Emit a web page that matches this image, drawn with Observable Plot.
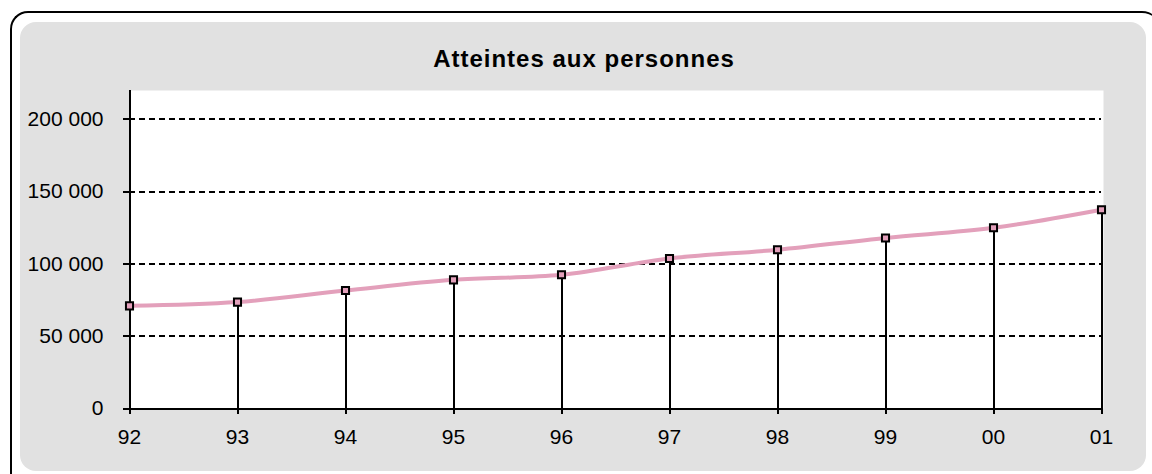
<!DOCTYPE html>
<html>
<head>
<meta charset="utf-8">
<script src="https://cdn.jsdelivr.net/npm/d3@7"></script>
<script src="https://cdn.jsdelivr.net/npm/@observablehq/plot@0.6"></script>
<style>
  html, body { margin: 0; padding: 0; background: #ffffff; }
  #wrap { position: relative; width: 1152px; height: 474px; overflow: hidden; font-family: "Liberation Sans", Arial, sans-serif; }
  #outer { position: absolute; left: 10px; top: 11px; width: 1150px; height: 480px; border-left: 2px solid #000; border-top: 2px solid #000; border-radius: 18px 18px 0 18px; box-sizing: border-box; }
  #panel { position: absolute; left: 20px; top: 22px; width: 1126px; height: 449px; background: #e1e1e1; border-radius: 16px; }
  #title { position: absolute; left: 284px; top: 47px; width: 600px; text-align: center; font-weight: bold; font-size: 24px; line-height: 24px; letter-spacing: 1px; color: #000; }
  #chart { position: absolute; left: 0; top: 0; }
</style>
</head>
<body>
<div id="wrap">
  <div id="outer"></div>
  <div id="panel"></div>
  <div id="title">Atteintes aux personnes</div>
  <div id="chart"></div>
</div>
<script>
const years = ["92","93","94","95","96","97","98","99","00","01"];
const values = [71000, 73600, 81600, 89000, 92500, 103800, 109800, 118000, 125000, 137500];
const yTicks = [0, 50000, 100000, 150000, 200000];
const gridTicks = [50000, 100000, 150000, 200000];

const data = years.map((y, i) => ({year: y, value: values[i]}));
const fmt = d => d3.format(",")(d).replace(/,/g, " ");
const pink = "#e3a0bb";

const chart = Plot.plot({
  width: 1152,
  height: 474,
  marginLeft: 129,
  marginRight: 51,
  marginTop: 90,
  marginBottom: 66,
  style: {background: "transparent", fontFamily: "Liberation Sans, Arial, sans-serif", fontSize: "21px", color: "#000", overflow: "visible"},
  x: {type: "point", domain: years, padding: 0},
  y: {domain: [0, 220000]},
  marks: [
    Plot.frame({fill: "white", stroke: null, insetRight: -2}),
    Plot.ruleY(gridTicks, {stroke: "black", strokeWidth: 2, strokeDasharray: "6,4", shapeRendering: "crispEdges"}),
    Plot.ruleX(data, {x: "year", y1: 0, y2: "value", stroke: "black", strokeWidth: 2, shapeRendering: "crispEdges"}),
    Plot.ruleX([years[0]], {stroke: "black", strokeWidth: 2, shapeRendering: "crispEdges"}),
    Plot.ruleY([0], {stroke: "black", strokeWidth: 2, shapeRendering: "crispEdges"}),
    Plot.axisY({ticks: yTicks, tickFormat: fmt, tickSize: 6, tickPadding: 20, strokeWidth: 2, label: null, fontSize: 21, shapeRendering: "crispEdges"}),
    Plot.axisY({ticks: yTicks, tickFormat: () => "", tickSize: -4, strokeWidth: 2, label: null, shapeRendering: "crispEdges"}),
    Plot.axisX({tickSize: 6, tickPadding: 15, strokeWidth: 2, label: null, fontSize: 21, shapeRendering: "crispEdges"}),
    Plot.line(data, {x: "year", y: "value", curve: "catmull-rom", stroke: pink, strokeWidth: 4}),
    Plot.dot(data, {x: "year", y: "value", symbol: "square", r: 4, fill: pink, stroke: "black", strokeWidth: 2})
  ]
});
document.getElementById("chart").appendChild(chart);
</script>
</body>
</html>
